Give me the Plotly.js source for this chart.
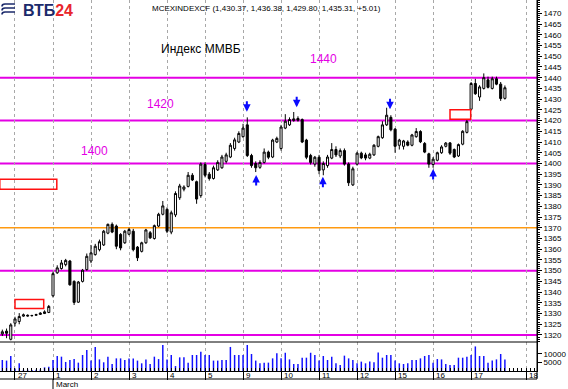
<!DOCTYPE html>
<html><head><meta charset="utf-8">
<script src="https://cdn.plot.ly/plotly-3.0.1.min.js"></script>
<style>html,body{margin:0;padding:0;background:#fff;overflow:hidden}#chart{width:568px;height:389px}</style>
</head><body><div id="chart"></div>
<script>
// ---- data (hourly MICEX index candles, Feb 26 – Mar 17) ----
const firstSlot = -3;
const open = [1320.5,1321.8,1318,
1325.5,1326.3,1328.8,1329.2,1329,1329.2,1329.6,1330,1330.5,
1338.3,1349,1351,1352.8,1354.5,1345,1335.3,1345,1350.5,
1354.5,1357.5,1359.8,1362,1367.5,1371.6,1370.8,1366.9,1363,
1367,1368.4,1361,1359,1363,1367.7,1365,1370.8,1376.3,
1378.6,1368,1376,1384,1388,1389.3,1394.5,1391.5,1385,
1399.5,1395,1393,1397,1398,1401,1403,1407,1410,
1412.5,1418,1403.7,1400,1398.2,1400.5,1405.3,1403,1410,
1407,1416.5,1418,1420,1421,1420.5,1410.9,1403.7,1399.7,
1402.9,1397,1399,1402.5,1406.5,1403.5,1406,1399.7,1390,
1399.7,1404.8,1404,1402.5,1404,1408,1412,1418,1421.5,
1416,1408.5,1408,1410,1408.5,1412.5,1414.9,1409.3,1404.5,
1399.5,1401.5,1405,1408,1409.6,1406.5,1403.5,1409,1414.5,
1425.3,1437.3,1431,1435,1439,1435,1439.5,1437,1430.37];
const high = [1322.5,1323,1325.5,
1328.5,1330.2,1330,1329.6,1329.4,1329.9,1330.6,1331.5,1334,
1349.5,1352.5,1355,1355.5,1355,1345.5,1345.2,1350.8,1358,
1362,1362.5,1364.5,1369,1372,1372.5,1371.5,1367.5,1369,
1370,1369.5,1361.5,1363.5,1369.5,1368.5,1371.5,1377,1382.5,
1379.5,1378,1387,1390.5,1389.8,1396,1395.5,1392,1400.5,
1400.5,1396,1399,1401.5,1404,1405,1409.5,1412,1415,
1418.5,1421.5,1404.5,1401,1401.5,1407,1406,1411.5,1412.5,
1418,1423,1421.5,1424,1422,1421,1411.5,1404.5,1403.5,
1404,1401,1404,1409.5,1408,1407,1407,1400.5,1398.5,
1405.5,1405.5,1405,1405,1409,1413,1419.7,1426,1422.5,
1416.5,1411.5,1411,1410.8,1413.8,1416.5,1415.5,1410,1405,
1403,1405.5,1408.5,1410,1410,1407,1409.3,1415.5,1420.5,
1438,1439.5,1436.5,1442,1440.5,1440.5,1440.5,1438,1436.38];
const low = [1319.5,1318.5,1317.5,
1324,1325,1328.5,1328.6,1328.6,1329,1329.4,1329.8,1330.2,
1337.5,1348.5,1350.5,1352,1343,1334,1335,1344.5,1350,
1353.5,1357,1359,1361.5,1367,1367.5,1360,1359.5,1362.5,
1366.5,1359,1354.5,1358.5,1362.5,1364.8,1364.5,1370.3,1375.8,
1367.5,1367,1375,1383,1387,1388.8,1391.8,1381.2,1384,
1393.5,1392,1392.5,1396.5,1397.5,1400,1402.5,1406,1409.5,
1412,1403,1398,1396,1397.5,1400,1402,1402.5,1409.5,
1406,1416,1417.5,1419.5,1419.5,1409.5,1402,1399.5,1398.5,
1395,1394.5,1398,1402,1403,1402.5,1399,1389.5,1389.5,
1399,1402,1401.5,1402,1403.5,1407.5,1411.5,1417.5,1415,
1405,1406.5,1406.5,1408,1408,1412,1409.5,1404.8,1398,
1398,1401,1404.5,1407.5,1404,1402.5,1403,1408.5,1414,
1425,1432,1429.2,1434.5,1435,1434.5,1436.5,1429.2,1429.8];
const close = [1321.5,1320.8,1324.7,
1327.5,1328.6,1329.4,1328.9,1329.1,1329.5,1330.2,1330.8,1333.3,
1348.6,1351.3,1353.6,1354.8,1343.4,1335.2,1344.7,1350.2,1356.7,
1358.3,1361.4,1363.5,1368.4,1371.6,1368,1361.4,1360.6,1368.4,
1369.2,1359.8,1356,1363,1369,1365.3,1371,1376.3,1380.2,
1368.4,1377,1386,1389.5,1389,1394.5,1392.3,1383.4,1399.7,
1394.5,1393,1398,1400.5,1403,1404,1408.5,1411,1414,
1416.5,1403.7,1399,1398,1400.5,1405.3,1402.9,1410.9,1411.7,
1417,1419.7,1420.5,1420.8,1420.2,1410,1402.9,1400.5,1402.9,
1396.7,1400,1403,1406.5,1404,1406,1399.7,1391,1397.5,
1404.8,1402.6,1402.5,1404.3,1408.5,1412.5,1418,1422.5,1415.7,
1408,1410.9,1410.5,1408.5,1413.3,1414.9,1410.1,1405.3,1399.7,
1402,1405,1407.7,1409.5,1404.8,1403,1408.8,1415,1419.5,
1437.3,1432.5,1435.7,1440,1435.5,1439.5,1437,1430.3,1435.31];
const volume = [6450,6100,8800,
1500,4500,700,800,600,700,900,2150,2540,
6450,8800,8400,5300,6450,7000,4900,9380,12300,
6100,14100,6800,5100,8400,4100,7400,7400,6450,
7400,7400,6100,4500,6800,4100,8400,7000,15240,
6800,9380,2900,8000,8000,4900,9380,9380,11300,
9380,9380,6100,6100,6450,6450,14100,9380,9380,
9380,15240,9960,6100,4500,4900,4900,7400,10400,
7420,10700,6800,4100,4100,7800,7800,10700,9380,
6100,8800,6450,8400,4500,3500,9000,7400,6450,
4500,5500,4500,5500,5200,10900,7800,9380,9380,
6100,4500,4100,4500,6450,6450,7400,8800,9380,
4900,7000,6800,4100,3500,3500,7800,7800,8400,
9380,14400,8800,8800,4900,6100,6800,9960,6800];
const dayLabels = ['27','1','2','3','4','5','9','10','11','12','15','16','17','18'];
const dayStart  = [0,9,18,27,36,45,54,63,72,81,90,99,108,121];
const monthLabel = 'March';
const monthStart = 9;
const magentaLevels = [1440,1420,1400,1350,1320];
const orangeLevels = [1370];
const levelTexts = ['1440','1420','1400'];
const priceTicks = []; for (let v=1320; v<=1470; v+=5) priceTicks.push(v);
const volTicks = [5000,10000];
const downArrows = {slot:[54.9,66.7,88.8], price:[1424.1,1426.2,1425.3]};
const upArrows   = {slot:[57.1,72.9,99.0], price:[1394.6,1393.8,1397.4]};
const seriesName = 'MCEXINDEXCF';
const chartTitle = 'Индекс ММВБ';

// ---- geometry ----
const W=568,H=389, PR=537, PB=371, SEP=342;
const fx = p => p/PR;              // pixel x -> paper
const fy = p => (PB-p)/PB;         // pixel y -> paper
const slots = open.map((_,k)=>k+firstSlot);
const volTop = (PB-SEP)/PB;
const FONT = 'Liberation Sans, Arial, sans-serif';

const n = close.length;
const fmt = v => v.toLocaleString('en-US',{minimumFractionDigits:2,maximumFractionDigits:2});
const chg = close[n-1]-close[n-2];
const header = `${seriesName} (${fmt(open[n-1])}, ${fmt(high[n-1])}, ${fmt(low[n-1])}, ${fmt(close[n-1])}, ${chg>=0?'+':''}${chg.toFixed(2)})`;

const traces = [
 {type:'candlestick', x:slots, open, high, low, close, xaxis:'x', yaxis:'y',
  increasing:{line:{color:'#000',width:1}, fillcolor:'#ffffff'},
  decreasing:{line:{color:'#000',width:1}, fillcolor:'#000000'},
  whiskerwidth:0, hoverinfo:'skip', showlegend:false},
 {type:'bar', x:slots, y:volume, xaxis:'x', yaxis:'y2', width:0.35,
  marker:{color:'#1010ff', line:{width:0}}, hoverinfo:'skip', showlegend:false}
];

const shapes = [];
magentaLevels.forEach(v=>shapes.push({type:'line', xref:'paper', x0:0, x1:1, yref:'y', y0:v, y1:v, layer:'between', line:{color:'#e400e4', width:2}}));
orangeLevels.forEach(v=>shapes.push({type:'line', xref:'paper', x0:0, x1:1, yref:'y', y0:v, y1:v, layer:'between', line:{color:'#ff9a10', width:1.5}}));
shapes.push({type:'line', xref:'paper', x0:0, x1:1, yref:'paper', y0:volTop, y1:volTop, line:{color:'#000', width:1}});
shapes.push({type:'line', xref:'paper', x0:0, x1:1, yref:'paper', y0:fy(379), y1:fy(379), line:{color:'#000', width:1}});
shapes.push({type:'line', xref:'paper', x0:1, x1:1, yref:'paper', y0:fy(379), y1:1, line:{color:'#000', width:1}});
shapes.push({type:'line', xref:'x', x0:monthStart, x1:monthStart, yref:'paper', y0:fy(379), y1:fy(389), line:{color:'#000', width:1}});
// gap boxes
const box = (x0,x1,y0,y1)=>({type:'rect', xref:'x', yref:'y', x0,x1,y0,y1, line:{color:'#ff1010', width:1.5}, fillcolor:'rgba(0,0,0,0)'});
shapes.push(box(-3.6,9.9,1388,1392.6));
shapes.push(box(0,6.8,1332.4,1336.6));
shapes.push(box(103,107.9,1420.6,1425));
// logo icon
const iconLines = [4,8,12];
iconLines.forEach(yy=>shapes.push({type:'path', xref:'paper', yref:'paper',
  path:`M ${fx(15)} ${fy(yy)} L ${fx(5)} ${fy(yy)} Q ${fx(2)} ${fy(yy)} ${fx(2)} ${fy(yy+2.5)}`,
  line:{color:'#1b2a6b', width:1.6}}));

const annotations = [];
dayLabels.forEach((t,k)=>annotations.push({xref:'x', yref:'paper', x:dayStart[k]+0.3, y:fy(375.5), text:t, showarrow:false, xanchor:'left', yanchor:'middle', font:{family:FONT, size:8, color:'#000'}}));
annotations.push({xref:'x', yref:'paper', x:monthStart+0.3, y:fy(384.5), text:monthLabel, showarrow:false, xanchor:'left', yanchor:'middle', font:{family:FONT, size:8, color:'#000'}});
const lvlPos = [[308,59.5],[145,104],[79,150.5]];
levelTexts.forEach((t,k)=>annotations.push({xref:'paper', yref:'paper', x:fx(lvlPos[k][0]), y:fy(lvlPos[k][1]), text:t, showarrow:false, xanchor:'left', yanchor:'middle', font:{family:FONT, size:12, color:'#e400e4'}}));
annotations.push({xref:'paper', yref:'paper', x:fx(159), y:fy(49), text:chartTitle, showarrow:false, xanchor:'left', yanchor:'middle', font:{family:FONT, size:12, color:'#000'}});
annotations.push({xref:'paper', yref:'paper', x:fx(150), y:fy(8), text:header, showarrow:false, xanchor:'left', yanchor:'middle', font:{family:FONT, size:8, color:'#000'}});
annotations.push({xref:'paper', yref:'paper', x:fx(21), y:fy(11), text:'<b><span style="color:#1b2a6b">ВТБ</span><span style="color:#e8262d">24</span></b>', showarrow:false, xanchor:'left', yanchor:'middle', font:{family:FONT, size:16}});
const arrowStyle = {text:'', showarrow:true, arrowhead:2, arrowsize:0.75, arrowwidth:2, arrowcolor:'#0a0aff'};
downArrows.slot.forEach((s,k)=>annotations.push(Object.assign({xref:'x', yref:'y', x:s, y:downArrows.price[k], ax:0, ay:-12}, arrowStyle)));
upArrows.slot.forEach((s,k)=>annotations.push(Object.assign({xref:'x', yref:'y', x:s, y:upArrows.price[k], ax:0, ay:12}, arrowStyle)));

const layout = {
 width:W, height:H, margin:{l:0, r:W-PR, t:0, b:H-PB, pad:0},
 paper_bgcolor:'#fff', plot_bgcolor:'#fff', showlegend:false,
 font:{family:FONT, size:8, color:'#000'},
 xaxis:{type:'linear', range:[-3.55,123.6], anchor:'y2', fixedrange:true,
   rangeslider:{visible:false},
   tickmode:'array', tickvals:dayStart, showticklabels:false,
   ticks:'outside', ticklen:8, tickcolor:'#000', tickwidth:1,
   showgrid:true, gridcolor:'#a8a8a8', griddash:'dot', gridwidth:1,
   showline:true, linecolor:'#000', linewidth:1, zeroline:false,
   minor:{tickmode:'linear', tick0:0, dtick:1, ticks:'inside', ticklen:3, tickcolor:'#000', showgrid:false}},
 yaxis:{domain:[volTop,1], range:[1316.73,1476.24], side:'right', anchor:'x', fixedrange:true,
   tickmode:'array', tickvals:priceTicks, ticktext:priceTicks.map(String),
   ticks:'outside', ticklen:4, tickcolor:'#000', tickfont:{family:FONT,size:8,color:'#000'},
   showline:true, linecolor:'#000', showgrid:false, zeroline:false,
   minor:{tickmode:'linear', tick0:1320, dtick:1, ticks:'outside', ticklen:2, tickcolor:'#000', showgrid:false}},
 yaxis2:{domain:[0,volTop], range:[0,17000], side:'right', anchor:'x', fixedrange:true,
   tickmode:'array', tickvals:volTicks, ticktext:volTicks.map(String),
   ticks:'outside', ticklen:4, tickcolor:'#000', tickfont:{family:FONT,size:8,color:'#000'},
   showline:true, linecolor:'#000', showgrid:false, zeroline:false},
 shapes, annotations
};
Plotly.newPlot('chart', traces, layout, {staticPlot:true, displayModeBar:false});
</script></body></html>
